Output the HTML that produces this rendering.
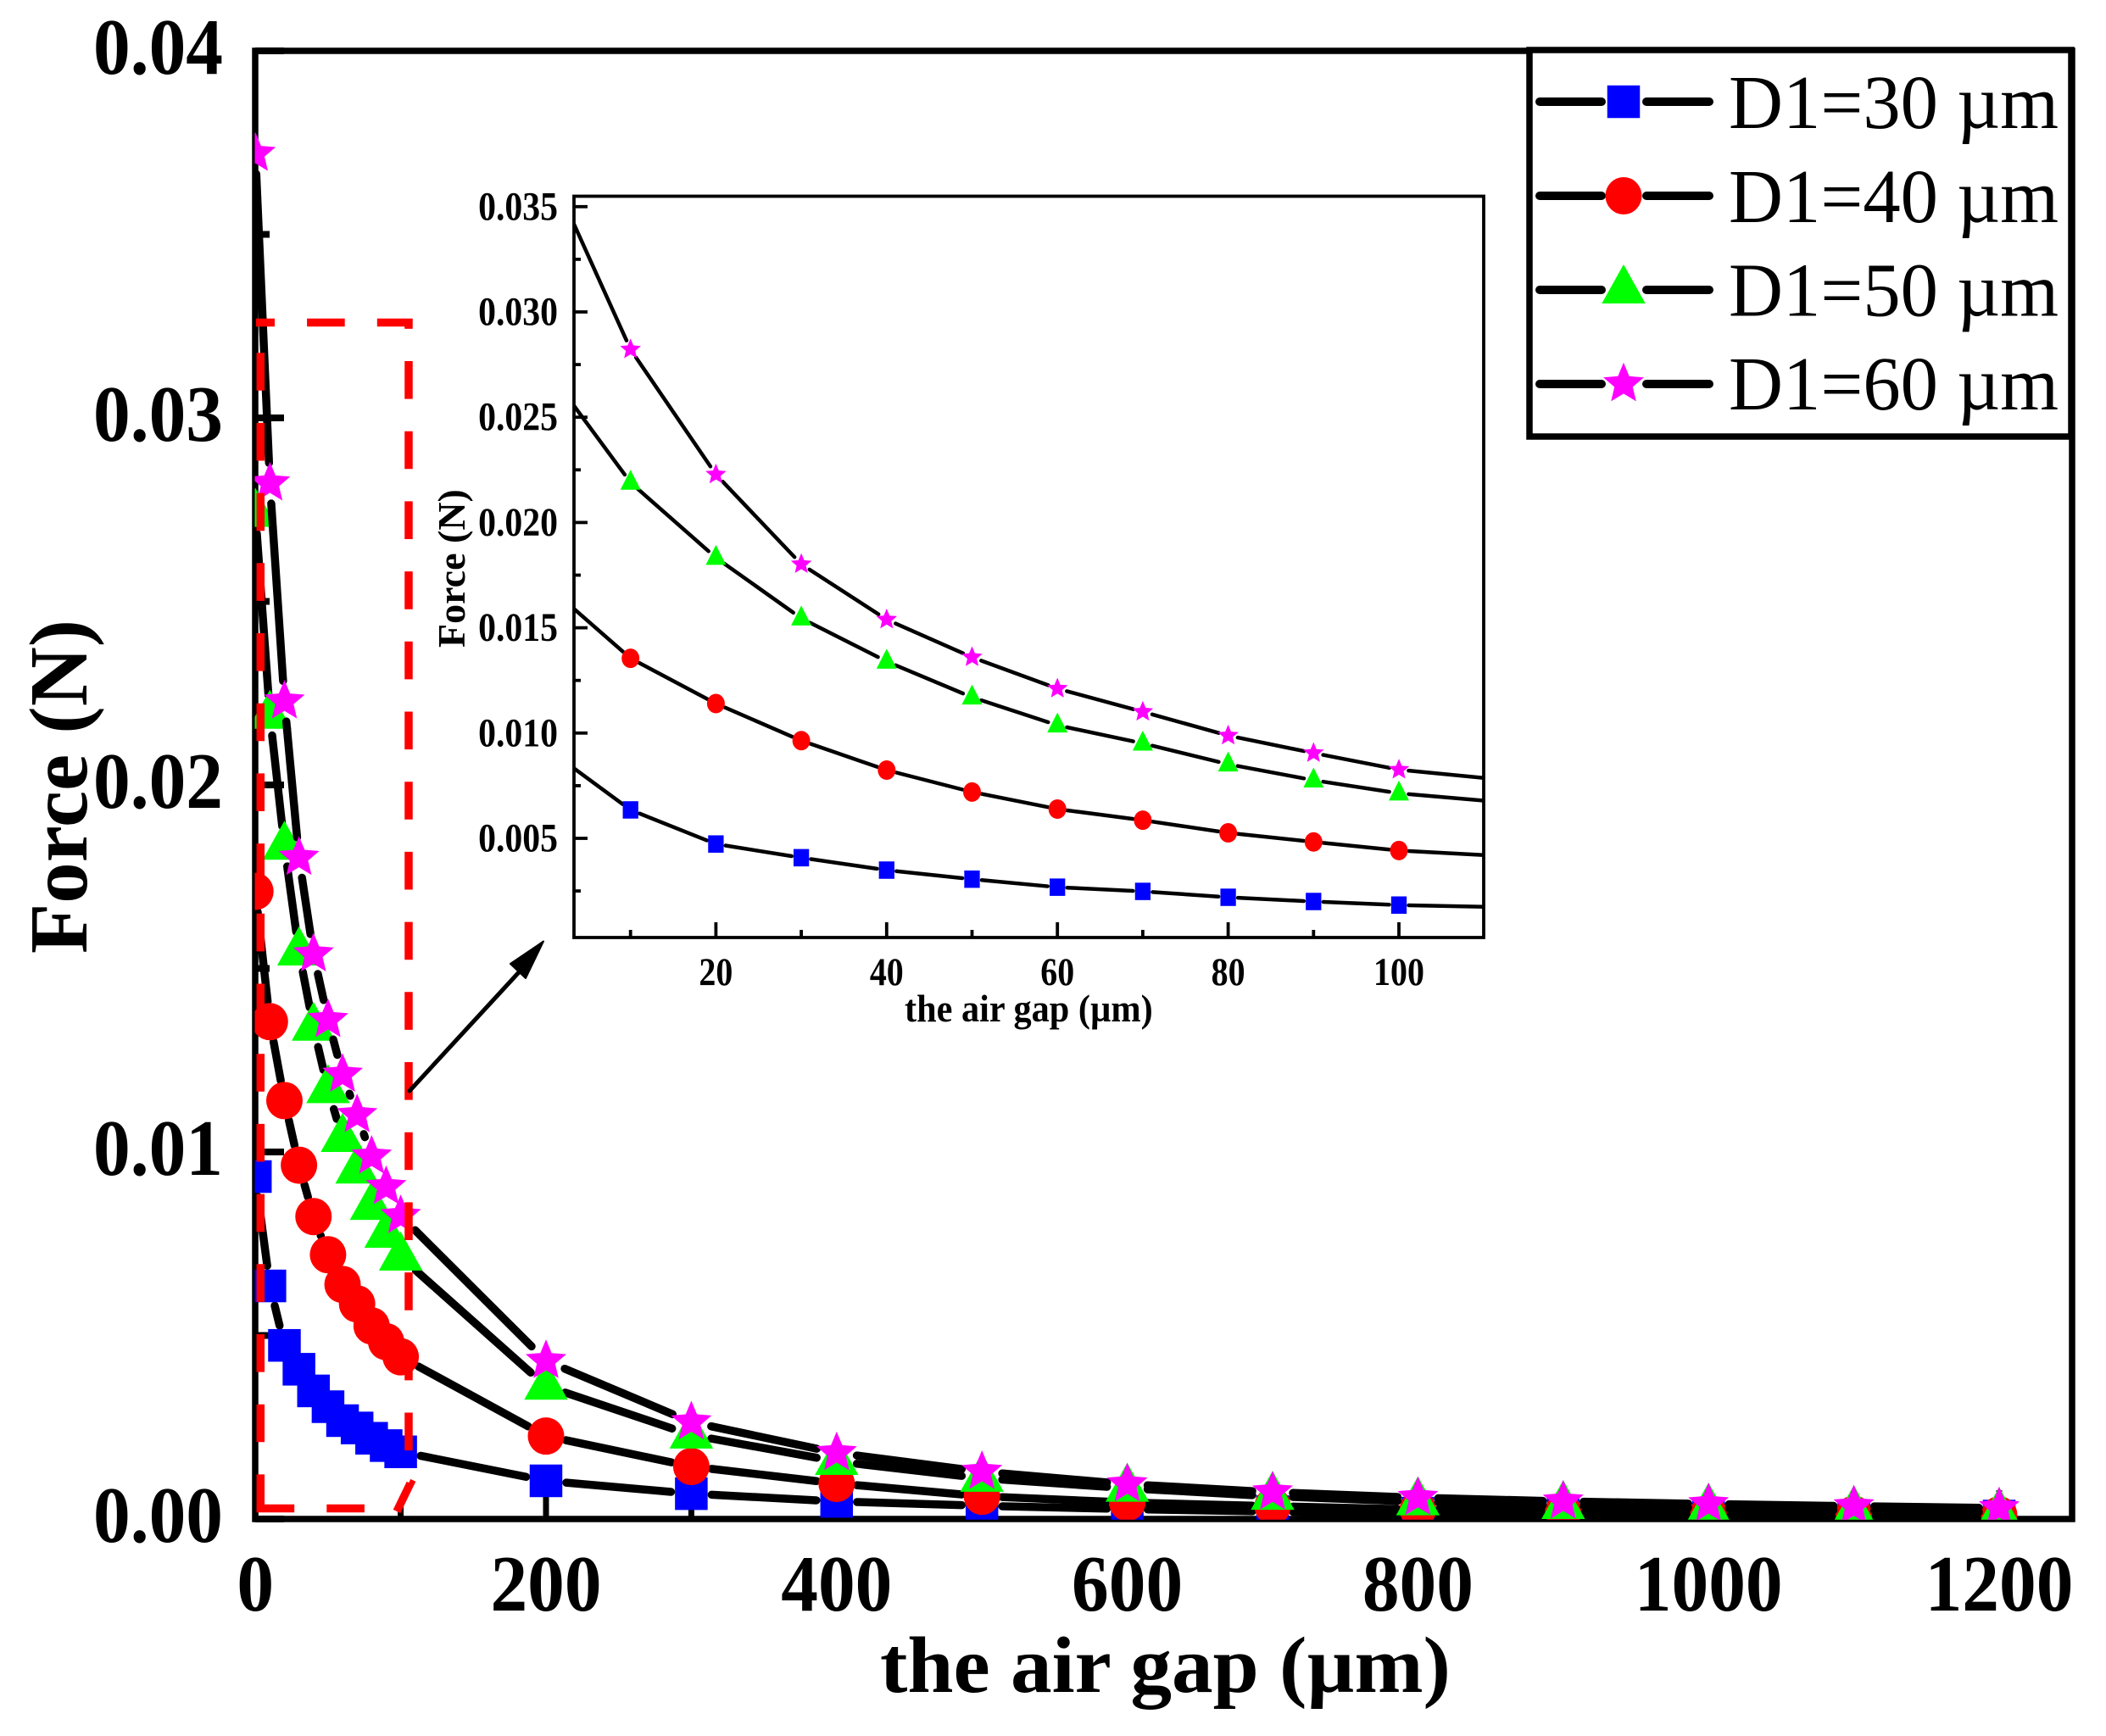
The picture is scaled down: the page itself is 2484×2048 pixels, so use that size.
<!DOCTYPE html>
<html lang="en">
<head>
<meta charset="utf-8">
<title>Force versus air gap</title>
<style>
html,body{margin:0;padding:0;background:#fff;width:2484px;height:2048px;overflow:hidden}
svg{display:block}
text{font-family:"Liberation Serif","DejaVu Serif",serif;fill:#000}
.b{font-weight:bold}
</style>
</head>
<body>
<svg id="chart" xmlns="http://www.w3.org/2000/svg" width="2484" height="2048" viewBox="0 0 2484 2048">
  <defs>
    <clipPath id="main-clip"><rect x="300.5" y="60" width="2143.5" height="1732.7"/></clipPath>
    <clipPath id="inset-clip"><rect x="677" y="231" width="1073" height="875"/></clipPath>
  </defs>
  <rect x="0" y="0" width="2484" height="2048" fill="#fff"/>
  <g id="main-axes"></g>
  <g id="main-series" clip-path="url(#main-clip)"></g>
  <g fill="none" stroke="#f00" stroke-width="9.5">
    <path d="M307.3 1784V380" stroke-dasharray="44.6 38.1"/>
    <path d="M302 380.5H482V1749L484 1750L468 1783" stroke-dasharray="44.6 38.1" stroke-dashoffset="22.6"/>
    <path d="M468 1779.5H302" stroke-dasharray="44.6 38.1" stroke-dashoffset="44.6"/>
  </g>
  <g>
    <line x1="483" y1="1287" x2="612" y2="1147" stroke="#000" stroke-width="5" stroke-linecap="round"/>
    <polygon points="641,1110.5 602,1137 620,1154" fill="#000" stroke="#000" stroke-width="2" stroke-linejoin="round"/>
  </g>
  <g id="inset-axes"></g>
  <g id="inset-series" clip-path="url(#inset-clip)"></g>
  <g id="legend"></g>
  <text class="b" font-size="97" transform="translate(102 1125) rotate(-90)">Force (N)</text>
  <text class="b" font-size="94" transform="translate(1038 1996) scale(1.035 1)">the air gap (µm)</text>
  <text class="b" font-size="46" transform="translate(548 764) rotate(-90)">Force (N)</text>
  <text class="b" font-size="46" transform="translate(1067 1205) scale(0.92 1)">the air gap (µm)</text>
</svg>
<script>
const airGaps = [0, 10, 20, 30, 40, 50, 60, 70, 80, 90, 100, 200, 300, 400, 500, 600, 700, 800, 900, 1000, 1100, 1200];
const forceD30 = [0.00933, 0.00635, 0.00473, 0.00408, 0.00349, 0.00306, 0.00268, 0.00248, 0.0022, 0.002, 0.00183, 0.00104, 0.00069, 0.00048, 0.00036, 0.00027, 0.0002, 0.00016, 0.00013, 0.0001, 0.00009, 0.00008];
const forceD40 = [0.0171, 0.01355, 0.0114, 0.00964, 0.00824, 0.0072, 0.00639, 0.00586, 0.00526, 0.00483, 0.00442, 0.00226, 0.00143, 0.00097, 0.00062, 0.00045, 0.00035, 0.00026, 0.0002, 0.00016, 0.00013, 0.00011];
const forceD50 = [0.0274, 0.0219, 0.01833, 0.01545, 0.0134, 0.0117, 0.01037, 0.00951, 0.00852, 0.00776, 0.00714, 0.00362, 0.00229, 0.00157, 0.00111, 0.00084, 0.00062, 0.00047, 0.00037, 0.0003, 0.00023, 0.00018];
const forceD60 = [0.0372, 0.02822, 0.02228, 0.01802, 0.01539, 0.0136, 0.01211, 0.01101, 0.00988, 0.00905, 0.00826, 0.00431, 0.00264, 0.0018, 0.00129, 0.00095, 0.00073, 0.00058, 0.00048, 0.00041, 0.00035, 0.0003];
const seriesNames = ['D1=30 µm', 'D1=40 µm', 'D1=50 µm', 'D1=60 µm'];
const mainYTickLabels = ['0.00', '0.01', '0.02', '0.03', '0.04'];
const mainXTickLabels = ['0', '200', '400', '600', '800', '1000', '1200'];
const insetYTickLabels = ['0.005', '0.010', '0.015', '0.020', '0.025', '0.030', '0.035'];
const insetXTickLabels = ['20', '40', '60', '80', '100'];

const SVGNS = 'http://www.w3.org/2000/svg';
const allForces = [forceD30, forceD40, forceD50, forceD60];
const markerKinds = ['square', 'circle', 'triangle', 'star'];
const markerColors = ['#0000ff', '#ff0000', '#00ff00', '#ff00ff'];

function mainX(v) { return 301.2 + v * 1.714; }
function mainY(v) { return 1792 - v * 43300; }
function insetX(v) { return 643 + v * 10.07; }
function insetY(v) { return 989 - (v - 0.005) * 24840; }

function make(tag, parent) {
  const el = document.createElementNS(SVGNS, tag);
  parent.appendChild(el);
  return el;
}
function line(parent, x1, y1, x2, y2, w, cap) {
  const el = make('line', parent);
  el.setAttribute('x1', x1);
  el.setAttribute('y1', y1);
  el.setAttribute('x2', x2);
  el.setAttribute('y2', y2);
  el.setAttribute('stroke', '#000');
  el.setAttribute('stroke-width', w);
  if (cap) el.setAttribute('stroke-linecap', cap);
  return el;
}
function starPoints(cx, cy, r) {
  const pts = [];
  for (let i = 0; i < 10; i++) {
    const rad = i % 2 ? r * 0.45 : r;
    const a = -Math.PI / 2 + i * Math.PI / 5;
    pts.push((cx + rad * Math.cos(a)).toFixed(2) + ',' + (cy + rad * Math.sin(a)).toFixed(2));
  }
  return pts.join(' ');
}
function marker(parent, kind, color, cx, cy, big) {
  let el;
  if (kind === 'square') {
    const w = big ? 38.5 : 18.3;
    const h = big ? 38.5 : 20.5;
    el = make('rect', parent);
    el.setAttribute('x', cx - w / 2);
    el.setAttribute('y', cy - h / 2);
    el.setAttribute('width', w);
    el.setAttribute('height', h);
  } else if (kind === 'circle') {
    el = make('ellipse', parent);
    el.setAttribute('cx', cx);
    el.setAttribute('cy', cy);
    el.setAttribute('rx', big ? 21.5 : 10.5);
    el.setAttribute('ry', big ? 22 : 11.5);
  } else if (kind === 'triangle') {
    const hw = big ? 25.7 : 12;
    const up = big ? 30 : 15;
    const dn = big ? 16 : 8.5;
    el = make('polygon', parent);
    el.setAttribute('points', cx + ',' + (cy - up) + ' ' + (cx + hw) + ',' + (cy + dn) + ' ' + (cx - hw) + ',' + (cy + dn));
  } else {
    el = make('polygon', parent);
    el.setAttribute('points', starPoints(cx, cy, big ? 25.2 : 12.9));
  }
  el.setAttribute('fill', color);
  
  
  return el;
}
function drawSeries(parent, sx, sy, big, gap, width) {
  allForces.forEach(function (values, s) {
    const g = make('g', parent);
    
    
    for (let i = 0; i + 1 < airGaps.length; i++) {
      const x1 = sx(airGaps[i]);
      const y1 = sy(values[i]);
      const x2 = sx(airGaps[i + 1]);
      const y2 = sy(values[i + 1]);
      const d = Math.hypot(x2 - x1, y2 - y1);
      if (d <= gap * 2) continue;
      const ux = (x2 - x1) / d;
      const uy = (y2 - y1) / d;
      const seg = line(g, x1 + ux * gap, y1 + uy * gap, x2 - ux * gap, y2 - uy * gap, width, 'round');
      
      
    }
    for (let i = 0; i < airGaps.length; i++) {
      marker(g, markerKinds[s], markerColors[s], sx(airGaps[i]), sy(values[i]), big);
    }
  });
}
function label(parent, str, x, y, size, sx, anchor, name) {
  const t = make('text', parent);
  t.setAttribute('class', 'b');
  t.setAttribute('font-size', size);
  t.setAttribute('text-anchor', anchor);
  t.setAttribute('transform', 'translate(' + x + ' ' + y + ') scale(' + sx + ' 1)');
  t.textContent = str;
  
  
  return t;
}

/* main axes */
const mainAxes = document.getElementById('main-axes');
const mainFrame = make('rect', mainAxes);
mainFrame.setAttribute('x', 301);
mainFrame.setAttribute('y', 60);
mainFrame.setAttribute('width', 2143);
mainFrame.setAttribute('height', 1732);
mainFrame.setAttribute('fill', 'none');
mainFrame.setAttribute('stroke', '#000');
mainFrame.setAttribute('stroke-width', 7.5);


mainYTickLabels.forEach(function (s, i) {
  const v = parseFloat(s);
  const y = mainY(v);
  const tick = line(mainAxes, 301, y, 335, y, 8);
  
  
  label(mainAxes, s, 263, y + 27, 94, 0.93, 'end', 'y-tick-label');
  if (i + 1 < mainYTickLabels.length) {
    const ym = mainY(v + 0.005);
    const minor = line(mainAxes, 301, ym, 318, ym, 8);
    
    
  }
});
mainXTickLabels.forEach(function (s, i) {
  const v = parseFloat(s);
  const x = mainX(v);
  const tick = line(mainAxes, x, 1792, x, 1758, 7);
  
  
  label(mainAxes, s, x, 1900, 94, 0.93, 'middle', 'x-tick-label');
  if (i + 1 < mainXTickLabels.length) {
    const xm = mainX(v + 100);
    const minor = line(mainAxes, xm, 1792, xm, 1775, 7);
    
    
  }
});
drawSeries(document.getElementById('main-series'), mainX, mainY, true, 24, 9.5);

/* inset axes */
const insetAxes = document.getElementById('inset-axes');
const insetFrame = make('rect', insetAxes);
insetFrame.setAttribute('x', 677);
insetFrame.setAttribute('y', 231.5);
insetFrame.setAttribute('width', 1073);
insetFrame.setAttribute('height', 874.5);
insetFrame.setAttribute('fill', 'none');
insetFrame.setAttribute('stroke', '#000');
insetFrame.setAttribute('stroke-width', 3.8);


insetYTickLabels.forEach(function (s) {
  const v = parseFloat(s);
  const y = insetY(v);
  const tick = line(insetAxes, 677, y, 693, y, 3.8);
  
  
  label(insetAxes, s, 658, y + 15.5, 48, 0.87, 'end', 'inset-y-tick-label');
  const ym = insetY(v - 0.0025);
  const minor = line(insetAxes, 677, ym, 685, ym, 3.8);
  
  
});
insetXTickLabels.forEach(function (s) {
  const v = parseFloat(s);
  const x = insetX(v);
  const tick = line(insetAxes, x, 1106, x, 1088, 3.8);
  
  
  label(insetAxes, s, x, 1162, 47, 0.85, 'middle', 'inset-x-tick-label');
  const xm = insetX(v - 10);
  const minor = line(insetAxes, xm, 1106, xm, 1097, 3.8);
  
  
});
drawSeries(document.getElementById('inset-series'), insetX, insetY, false, 11.5, 4.5);

/* legend */
const legend = document.getElementById('legend');
const legendBox = make('rect', legend);
legendBox.setAttribute('x', 1804);
legendBox.setAttribute('y', 59);
legendBox.setAttribute('width', 639);
legendBox.setAttribute('height', 456);
legendBox.setAttribute('fill', '#fff');
legendBox.setAttribute('stroke', '#000');
legendBox.setAttribute('stroke-width', 7.5);


const legendRows = [120, 231, 342, 453];
const legendBaselines = [151, 262, 372.5, 483];
seriesNames.forEach(function (name, i) {
  const row = make('g', legend);
  
  
  const y = legendRows[i];
  const left = line(row, 1816, y, 1889, y, 10, 'round');
  
  
  const right = line(row, 1942, y, 2016, y, 10, 'round');
  
  
  marker(row, markerKinds[i], markerColors[i], 1915, y, true);
  const t = make('text', row);
  t.setAttribute('font-size', 90);
  t.setAttribute('transform', 'translate(2039 ' + legendBaselines[i] + ') scale(0.985 1)');
  t.textContent = name;
  
  
});
</script>
</body>
</html>
